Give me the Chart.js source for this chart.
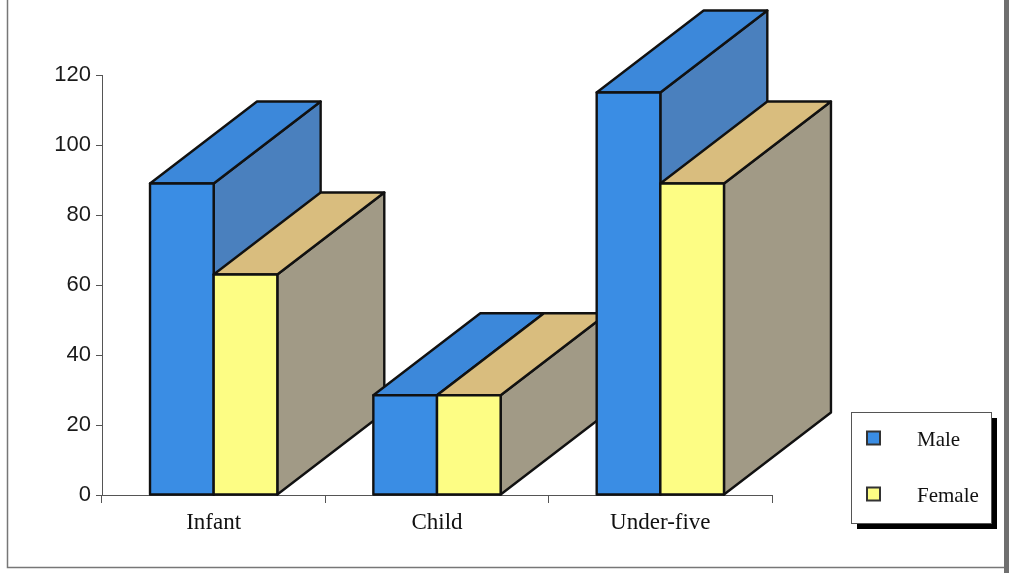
<!DOCTYPE html>
<html>
<head>
<meta charset="utf-8">
<script src="https://cdn.jsdelivr.net/npm/chart.js@4/dist/chart.umd.min.js"></script>
<style>
  html, body { margin: 0; padding: 0; background: #ffffff; }
  #wrap { width: 1009px; height: 573px; }
</style>
</head>
<body>
<div id="wrap"><canvas id="c" width="1009" height="573"></canvas></div>
<script>
const categories = ['Infant', 'Child', 'Under-five'];
const maleValues = [89, 28.5, 115];
const femaleValues = [63, 28.5, 89];
const seriesNames = ['Male', 'Female'];
const yTickValues = [0, 20, 40, 60, 80, 100, 120];

const frontColors = ['#3a8de4', '#fdfd84'];
const topColors = ['#3c88da', '#d9bd7e'];
const sideColors = ['#4a80be', '#a19a86'];

const threeD = {
  id: 'threeD',
  beforeDraw(chart) {
    const ctx = chart.ctx;
    ctx.save();
    ctx.fillStyle = '#ffffff';
    ctx.fillRect(0, 0, chart.width, chart.height);
    ctx.strokeStyle = '#777';
    ctx.lineWidth = 1.5;
    ctx.beginPath();
    ctx.moveTo(7.5, 0);
    ctx.lineTo(7.5, 567.5);
    ctx.lineTo(1004, 567.5);
    ctx.stroke();
    ctx.fillStyle = '#707070';
    ctx.fillRect(1004, 0, 5, 573);
    ctx.restore();
  },
  beforeDatasetsDraw(chart) {
    const ctx = chart.ctx;
    const xs = chart.scales.x;
    const cat = xs.getPixelForValue(1) - xs.getPixelForValue(0);
    const dx = cat * 0.479, dy = -cat * 0.367;
    const n = chart.data.labels.length;
    const poly = (pts, fill) => {
      ctx.beginPath();
      ctx.moveTo(pts[0][0], pts[0][1]);
      for (let k = 1; k < pts.length; k++) ctx.lineTo(pts[k][0], pts[k][1]);
      ctx.closePath();
      ctx.fillStyle = fill;
      ctx.fill();
      ctx.stroke();
    };
    ctx.save();
    ctx.lineWidth = 2.4;
    ctx.strokeStyle = '#111';
    ctx.lineJoin = 'round';
    for (let i = 0; i < n; i++) {
      chart.data.datasets.forEach((ds, d) => {
        const meta = chart.getDatasetMeta(d);
        const el = meta.data[i];
        const p = el.getProps(['x', 'y', 'base', 'width'], true);
        const l = p.x - p.width / 2, r = p.x + p.width / 2;
        const t = p.y, b = p.base;
        poly([[r, t], [r + dx, t + dy], [r + dx, b + dy], [r, b]], sideColors[d]);
        poly([[l, t], [r, t], [r + dx, t + dy], [l + dx, t + dy]], topColors[d]);
        poly([[l, t], [r, t], [r, b], [l, b]], frontColors[d]);
      });
    }
    ctx.restore();
    return false;
  },
  afterDraw(chart) {
    const ctx = chart.ctx;
    ctx.save();
    ctx.fillStyle = '#000';
    ctx.fillRect(857, 418, 140, 111);
    ctx.fillStyle = '#fff';
    ctx.fillRect(851, 412, 141, 112);
    ctx.strokeStyle = '#555';
    ctx.lineWidth = 1;
    ctx.strokeRect(851.5, 412.5, 140, 111);
    const ys = [438, 494];
    chart.data.datasets.forEach((ds, d) => {
      ctx.fillStyle = frontColors[d];
      ctx.fillRect(867, ys[d] - 6.5, 13, 13);
      ctx.strokeStyle = '#333';
      ctx.lineWidth = 2;
      ctx.strokeRect(867, ys[d] - 6.5, 13, 13);
      ctx.fillStyle = '#111';
      ctx.font = '21px "Liberation Serif", "Times New Roman", serif';
      ctx.textBaseline = 'middle';
      ctx.textAlign = 'left';
      ctx.fillText(ds.label, 917, ys[d] + 2);
    });
    ctx.restore();
  }
};

new Chart(document.getElementById('c'), {
  type: 'bar',
  data: {
    labels: categories,
    datasets: [
      { label: seriesNames[0], data: maleValues, backgroundColor: frontColors[0] },
      { label: seriesNames[1], data: femaleValues, backgroundColor: frontColors[1] }
    ]
  },
  options: {
    responsive: false,
    animation: false,
    events: [],
    layout: { padding: { left: 42, right: 237, top: 75, bottom: 38 } },
    datasets: { bar: { categoryPercentage: 0.57, barPercentage: 1.0 } },
    plugins: { legend: { display: false }, tooltip: { enabled: false } },
    scales: {
      x: {
        afterFit(s) { s.height = 40; },
        grid: { drawOnChartArea: false, drawTicks: true, tickLength: 8, color: '#555', offset: true },
        border: { display: true, color: '#555', width: 1 },
        ticks: {
          color: '#111',
          padding: 6,
          maxRotation: 0,
          font: { family: '"Liberation Serif", "Times New Roman", serif', size: 23 }
        }
      },
      y: {
        min: 0,
        max: 120,
        afterFit(s) { s.width = 60; },
        afterBuildTicks(s) { s.ticks = yTickValues.map(v => ({ value: v })); },
        grid: { drawOnChartArea: false, drawTicks: true, tickLength: 6, color: '#555' },
        border: { display: true, color: '#555', width: 1 },
        ticks: {
          color: '#1a1a1a',
          padding: 5,
          font: { family: '"Liberation Sans", Arial, sans-serif', size: 22 }
        }
      }
    }
  },
  plugins: [threeD]
});
</script>
</body>
</html>
